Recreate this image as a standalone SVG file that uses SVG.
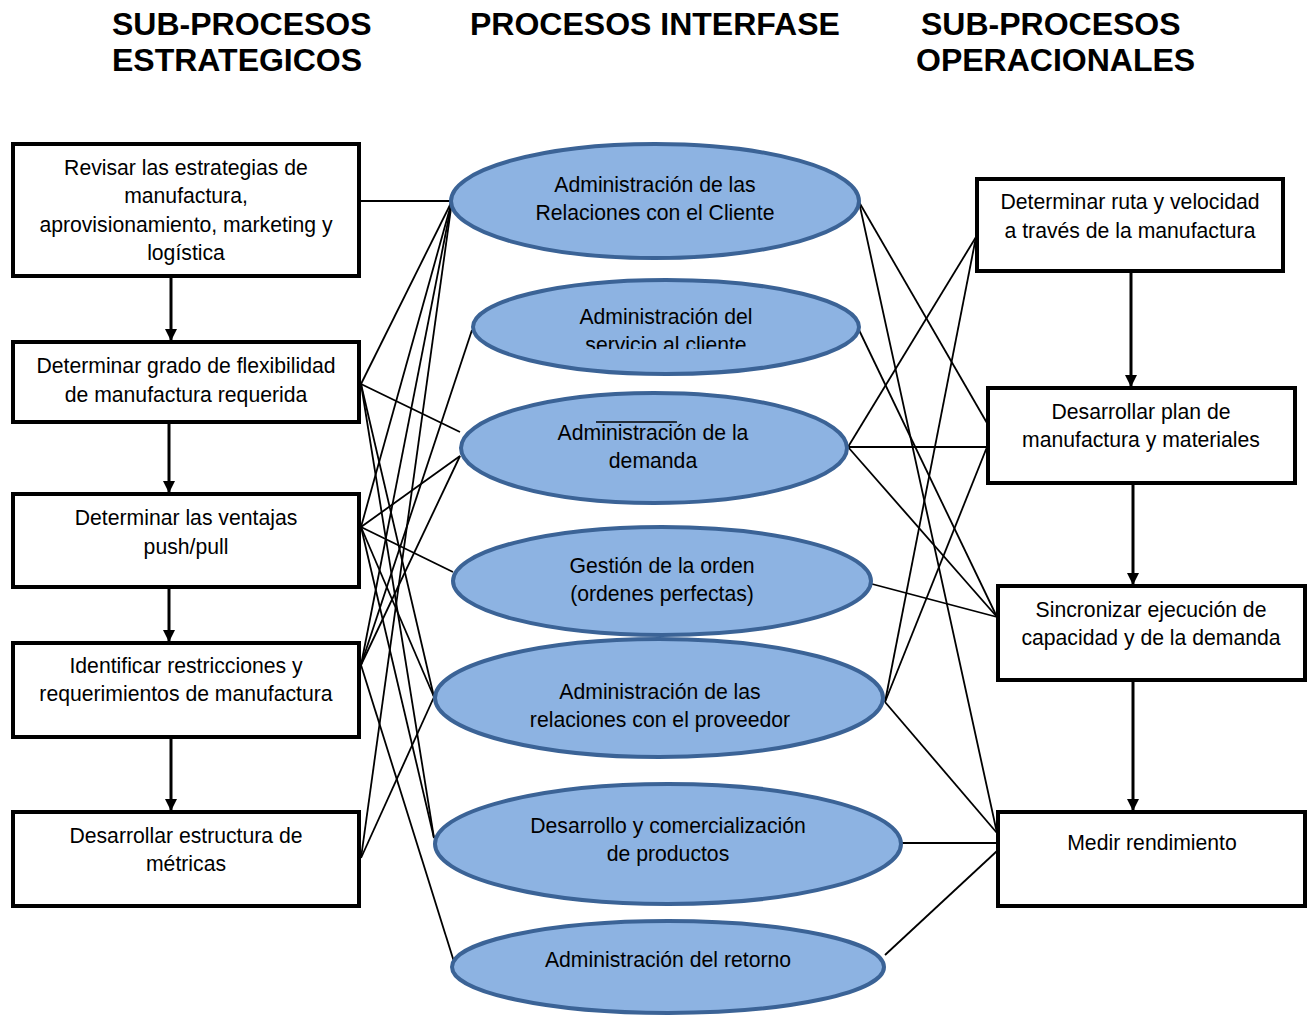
<svg xmlns="http://www.w3.org/2000/svg" width="1311" height="1015" viewBox="0 0 1311 1015">
  <style>
    .title { font-family: "Liberation Sans", Arial, sans-serif; font-size: 32px; font-weight: bold; fill: #000; }
    .label { font-family: "Liberation Sans", Arial, sans-serif; font-size: 21.2px; fill: #000; text-anchor: middle; }
    .box { fill: #fff; stroke: #000; stroke-width: 4; }
    .proc { fill: #8DB3E2; stroke: #3B6396; stroke-width: 4; }
    .link { stroke: #000; stroke-width: 1.8; fill: none; }
    .flow { stroke: #000; stroke-width: 3; fill: none; marker-end: url(#head); }
  </style>
  <defs>
    <marker id="head" markerUnits="userSpaceOnUse" markerWidth="12" markerHeight="12" refX="11" refY="6" orient="auto">
      <path d="M0,0 L12,6 L0,12 z" fill="#000"/>
    </marker>
    <clipPath id="clipServicio">
      <rect x="470" y="280" width="400" height="69"/>
    </clipPath>
  </defs>

  <rect width="1311" height="1015" fill="#fff"/>

  <!-- column headings -->
  <g id="headings">
    <text class="title" x="112" y="35">SUB-PROCESOS</text>
    <text class="title" x="112" y="71">ESTRATEGICOS</text>
    <text class="title" x="470" y="35">PROCESOS INTERFASE</text>
    <text class="title" x="921" y="35">SUB-PROCESOS</text>
    <text class="title" x="916" y="71">OPERACIONALES</text>
  </g>

  <!-- connectors -->
  <g id="connectors">
    <!-- strategic sub-processes to interface processes -->
    <line class="link" x1="360" y1="201" x2="452" y2="201"/>
    <line class="link" x1="452" y1="201" x2="361" y2="384"/>
    <line class="link" x1="452" y1="201" x2="361" y2="527"/>
    <line class="link" x1="452" y1="201" x2="361" y2="665"/>
    <line class="link" x1="452" y1="201" x2="361" y2="858"/>
    <line class="link" x1="361" y1="384" x2="460" y2="432"/>
    <line class="link" x1="361" y1="384" x2="434" y2="697"/>
    <line class="link" x1="361" y1="384" x2="434" y2="838"/>
    <line class="link" x1="361" y1="527" x2="460" y2="456"/>
    <line class="link" x1="361" y1="527" x2="453" y2="572"/>
    <line class="link" x1="361" y1="527" x2="434" y2="697"/>
    <line class="link" x1="361" y1="527" x2="434" y2="838"/>
    <line class="link" x1="361" y1="665" x2="472" y2="330"/>
    <line class="link" x1="361" y1="665" x2="460" y2="456"/>
    <line class="link" x1="361" y1="665" x2="455" y2="965"/>
    <line class="link" x1="361" y1="858" x2="434" y2="697"/>
    <!-- interface processes to operational sub-processes -->
    <line class="link" x1="859" y1="202" x2="987" y2="423"/>
    <line class="link" x1="859" y1="202" x2="997" y2="833"/>
    <line class="link" x1="859" y1="330" x2="997" y2="617"/>
    <line class="link" x1="848" y1="447" x2="976" y2="237"/>
    <line class="link" x1="848" y1="447" x2="987" y2="447"/>
    <line class="link" x1="848" y1="447" x2="997" y2="617"/>
    <line class="link" x1="872" y1="584" x2="997" y2="617"/>
    <line class="link" x1="885" y1="702" x2="976" y2="237"/>
    <line class="link" x1="885" y1="702" x2="987" y2="447"/>
    <line class="link" x1="885" y1="702" x2="997" y2="833"/>
    <line class="link" x1="902" y1="843" x2="997" y2="843"/>
    <line class="link" x1="885" y1="955" x2="997" y2="851"/>
    <!-- sequence arrows -->
    <line class="flow" x1="171" y1="278" x2="171" y2="340"/>
    <line class="flow" x1="169" y1="424" x2="169" y2="492"/>
    <line class="flow" x1="169" y1="589" x2="169" y2="641"/>
    <line class="flow" x1="171" y1="739" x2="171" y2="810"/>
    <line class="flow" x1="1131" y1="273" x2="1131" y2="386"/>
    <line class="flow" x1="1133" y1="485" x2="1133" y2="584"/>
    <line class="flow" x1="1133" y1="682" x2="1133" y2="810"/>
  </g>

  <!-- strategic sub-processes -->
  <g id="s1">
    <rect class="box" x="13" y="144" width="346" height="132"/>
    <text class="label" x="186" y="175">Revisar las estrategias de</text>
    <text class="label" x="186" y="203">manufactura,</text>
    <text class="label" x="186" y="232">aprovisionamiento, marketing y</text>
    <text class="label" x="186" y="260">logística</text>
  </g>
  <g id="s2">
    <rect class="box" x="13" y="342" width="346" height="80"/>
    <text class="label" x="186" y="373">Determinar grado de flexibilidad</text>
    <text class="label" x="186" y="402">de manufactura requerida</text>
  </g>
  <g id="s3">
    <rect class="box" x="13" y="494" width="346" height="93"/>
    <text class="label" x="186" y="525">Determinar las ventajas</text>
    <text class="label" x="186" y="554">push/pull</text>
  </g>
  <g id="s4">
    <rect class="box" x="13" y="643" width="346" height="94"/>
    <text class="label" x="186" y="673">Identificar restricciones y</text>
    <text class="label" x="186" y="701">requerimientos de manufactura</text>
  </g>
  <g id="s5">
    <rect class="box" x="13" y="812" width="346" height="94"/>
    <text class="label" x="186" y="843">Desarrollar estructura de</text>
    <text class="label" x="186" y="871">métricas</text>
  </g>

  <!-- interface processes -->
  <g id="p1">
    <ellipse class="proc" cx="655" cy="201" rx="204" ry="57"/>
    <text class="label" x="655" y="192">Administración de las</text>
    <text class="label" x="655" y="220">Relaciones con el Cliente</text>
  </g>
  <g id="p2">
    <ellipse class="proc" cx="666" cy="327" rx="193" ry="47"/>
    <text class="label" x="666" y="324">Administración del</text>
    <text class="label" x="666" y="352" clip-path="url(#clipServicio)">servicio al cliente</text>
  </g>
  <g id="p3">
    <ellipse class="proc" cx="654" cy="448" rx="193" ry="55"/>
    <text class="label" x="653" y="440">Administración de la</text>
    <text class="label" x="653" y="468">demanda</text>
    <line x1="596" y1="422" x2="677" y2="422" stroke="#000" stroke-width="1.3"/>
  </g>
  <g id="p4">
    <ellipse class="proc" cx="662" cy="581" rx="209" ry="54"/>
    <text class="label" x="662" y="573">Gestión de la orden</text>
    <text class="label" x="662" y="601">(ordenes perfectas)</text>
  </g>
  <g id="p5">
    <ellipse class="proc" cx="659" cy="698" rx="224" ry="59"/>
    <text class="label" x="660" y="699">Administración de las</text>
    <text class="label" x="660" y="727">relaciones con el proveedor</text>
  </g>
  <g id="p6">
    <ellipse class="proc" cx="668" cy="844" rx="233" ry="60"/>
    <text class="label" x="668" y="833">Desarrollo y comercialización</text>
    <text class="label" x="668" y="861">de productos</text>
  </g>
  <g id="p7">
    <ellipse class="proc" cx="668" cy="967" rx="216" ry="46"/>
    <text class="label" x="668" y="967">Administración del retorno</text>
  </g>

  <!-- operational sub-processes -->
  <g id="o1">
    <rect class="box" x="977" y="179" width="306" height="92"/>
    <text class="label" x="1130" y="209">Determinar ruta y velocidad</text>
    <text class="label" x="1130" y="238">a través de la manufactura</text>
  </g>
  <g id="o2">
    <rect class="box" x="988" y="388" width="307" height="95"/>
    <text class="label" x="1141" y="419">Desarrollar plan de</text>
    <text class="label" x="1141" y="447">manufactura y materiales</text>
  </g>
  <g id="o3">
    <rect class="box" x="998" y="586" width="307" height="94"/>
    <text class="label" x="1151" y="617">Sincronizar ejecución de</text>
    <text class="label" x="1151" y="645">capacidad y de la demanda</text>
  </g>
  <g id="o4">
    <rect class="box" x="998" y="812" width="307" height="94"/>
    <text class="label" x="1152" y="850">Medir rendimiento</text>
  </g>
</svg>
